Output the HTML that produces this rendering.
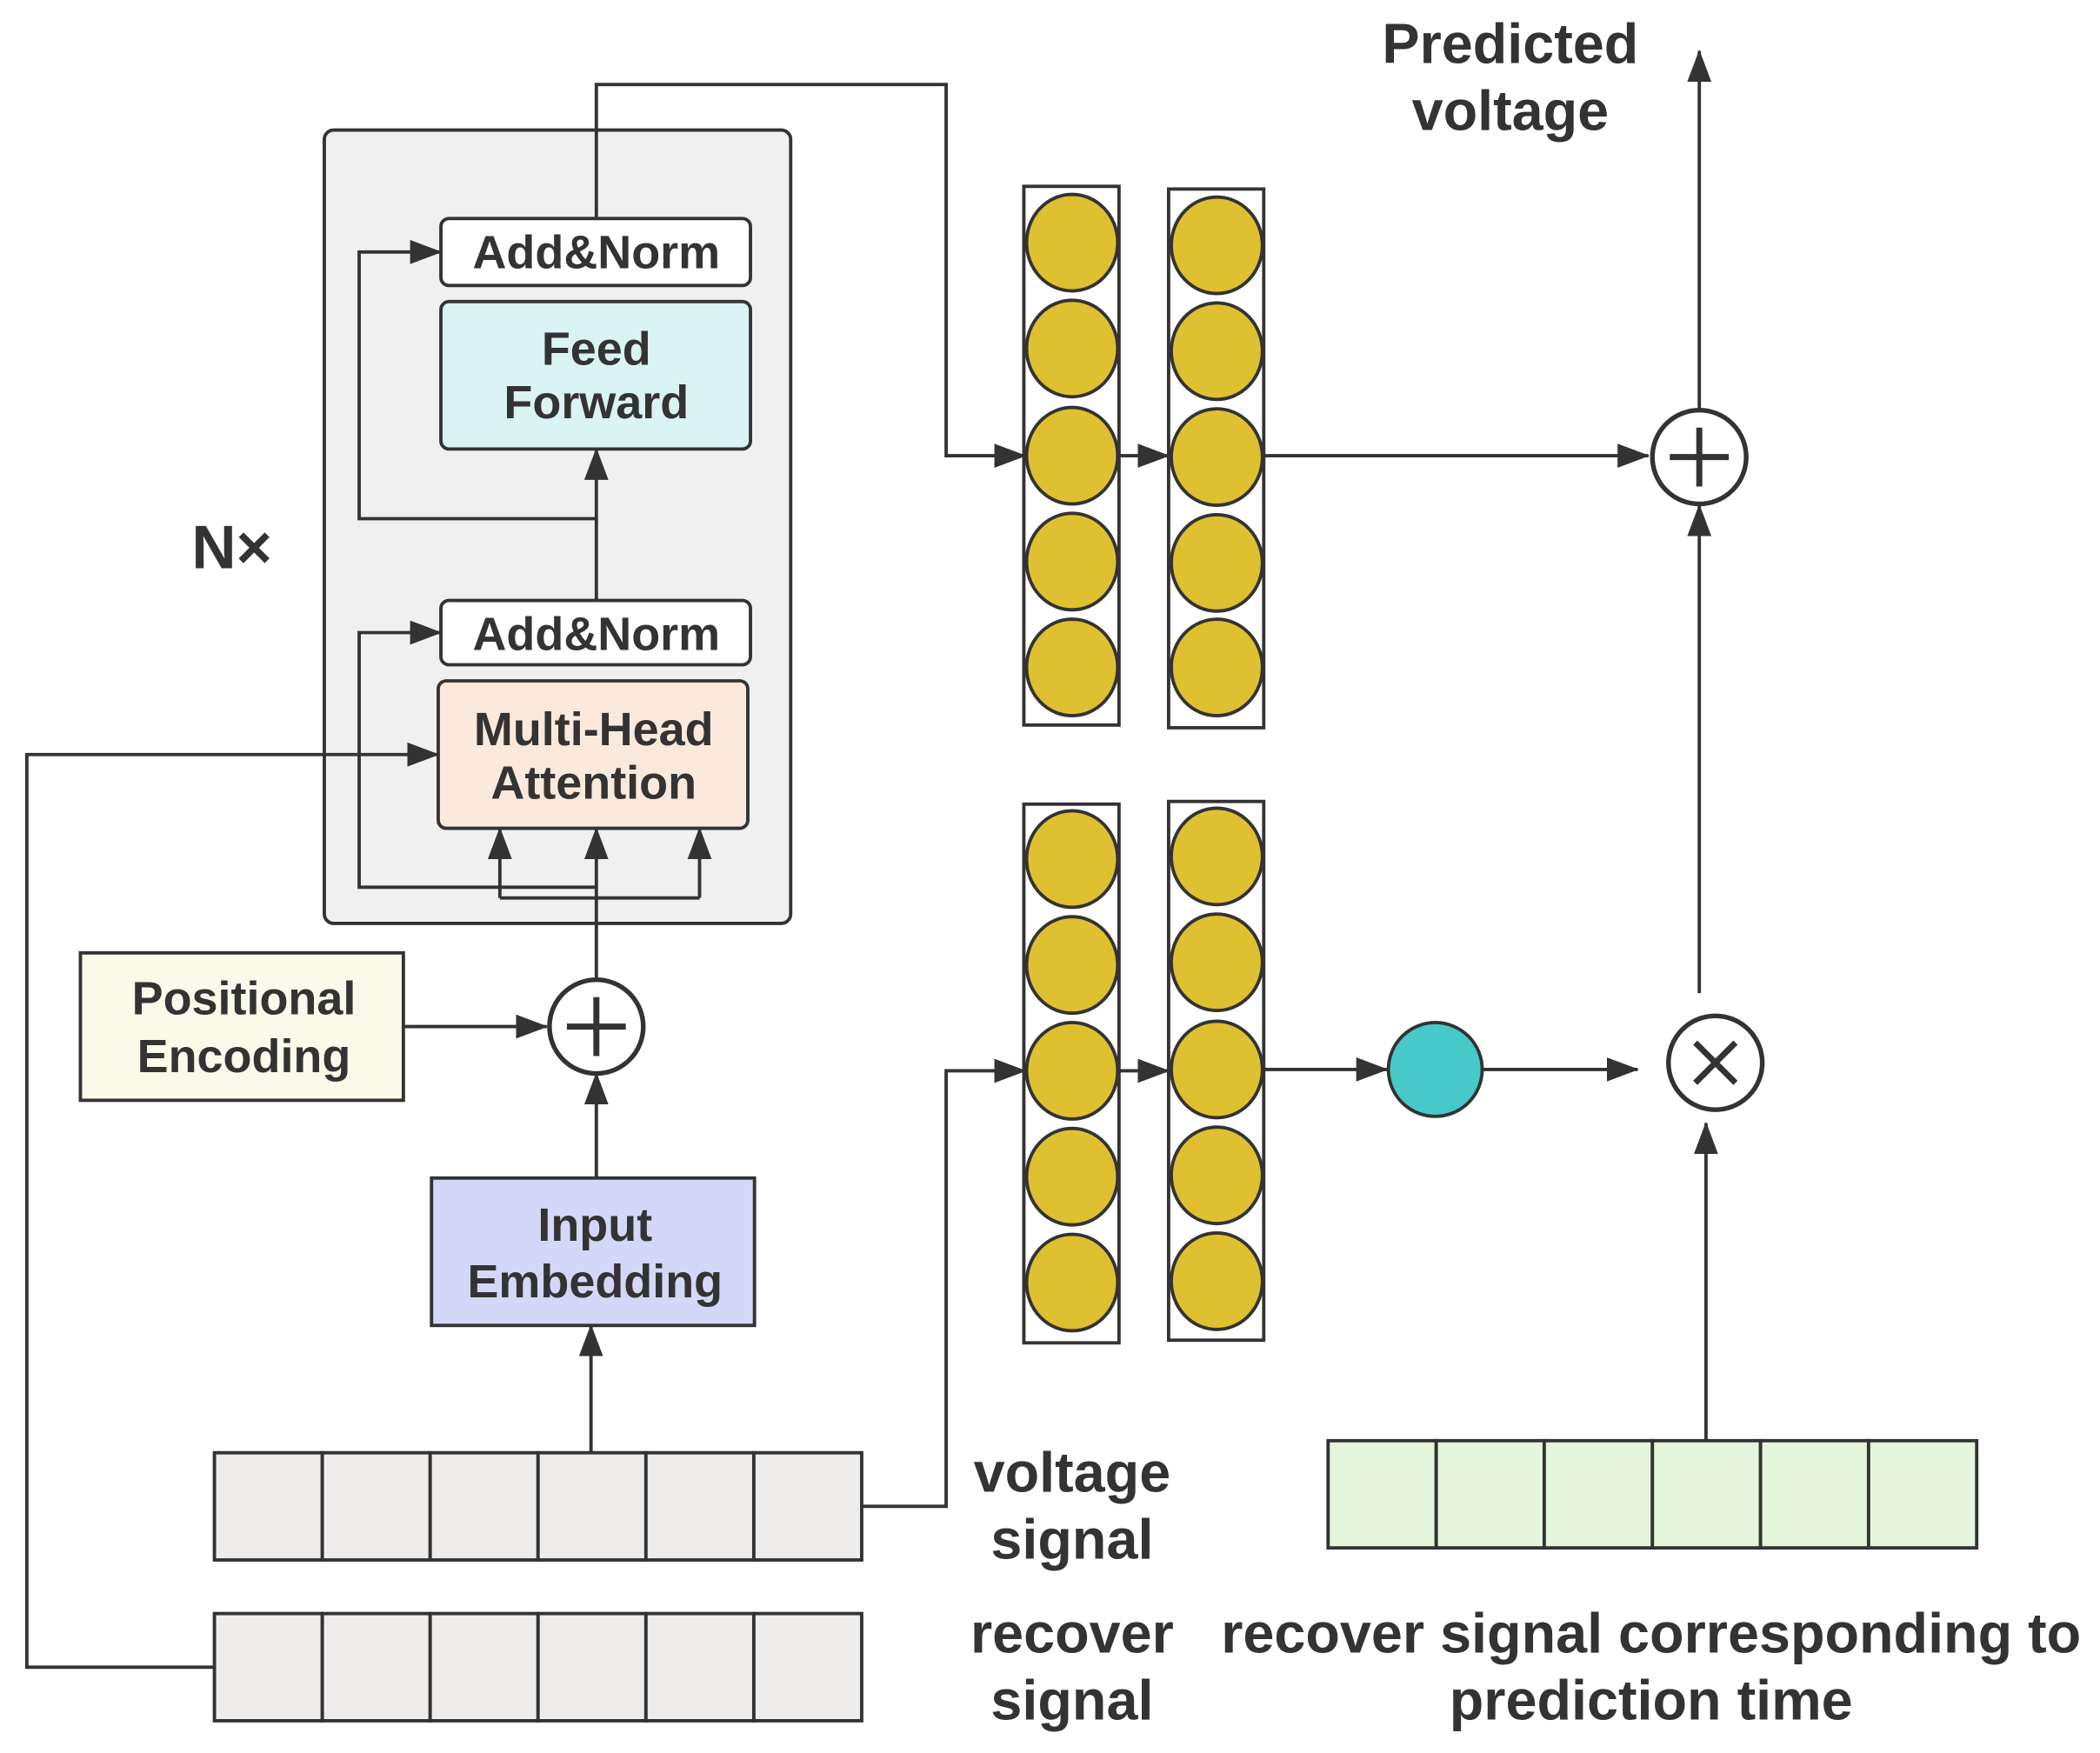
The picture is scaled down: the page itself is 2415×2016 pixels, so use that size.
<!DOCTYPE html>
<html><head><meta charset="utf-8"><style>html,body{margin:0;padding:0;background:#fff}svg{display:block}</style></head><body>
<svg width="2415" height="2016" viewBox="0 0 1567 1308" xmlns="http://www.w3.org/2000/svg" font-family="Liberation Sans, sans-serif" font-weight="bold" fill="#333">
<defs>
<marker id="b" markerWidth="24" markerHeight="18" refX="23" refY="9" orient="auto" markerUnits="userSpaceOnUse"><path d="M0,0L24,9L0,18z" fill="#333"/></marker></defs>
<g stroke="#333" stroke-width="2.5">
<rect x="242" y="97" width="348" height="592" rx="7" fill="#f0f0f0"/>
<rect x="329" y="163" width="231" height="50" rx="6" fill="#fff"/>
<rect x="329" y="225" width="231" height="110" rx="6" fill="#daf3f3"/>
<rect x="329" y="448" width="231" height="48" rx="6" fill="#fff"/>
<rect x="327" y="508" width="231" height="110" rx="6" fill="#fbe9dc"/>
<rect x="60" y="711" width="241" height="110" fill="#fbf9e9"/>
<rect x="322" y="879" width="241" height="110" fill="#d4d8f8"/>
<g fill="none" marker-end="url(#b)">
<path d="M445 163V63H706V340H765"/>
<path d="M445 387H268V188H329"/>
<path d="M445 447V335"/>
<path d="M445 662H268V472H329"/>
<path d="M445 730V618"/>
<path d="M373 670V618"/>
<path d="M522 670V618"/>
<path d="M301 766H408"/>
<path d="M445 879V801"/>
<path d="M441 1083V989"/>
<path d="M643 1124H706V799H765"/>
<path d="M160 1244H20V563H327"/>
<path d="M835 340H872"/>
<path d="M835 799H872"/>
<path d="M943 340H1230"/>
<path d="M943 798H1035"/>
<path d="M1107 798H1222"/>
<path d="M1268 741V377"/>
<path d="M1268 306V38"/>
<path d="M1273 1075V838"/>
</g>
<path d="M373 670H522" fill="none"/>
<circle cx="445" cy="766" r="35" fill="#fff" stroke-width="3.5"/>
<path d="M445 744V788M423 766H467" stroke-width="4.5"/>
<circle cx="1268" cy="341" r="35" fill="#fff" stroke-width="3.5"/>
<path d="M1268 319V363M1246 341H1290" stroke-width="4.5"/>
<circle cx="1280" cy="793" r="35" fill="#fff" stroke-width="3.5"/>
<path d="M1265 778L1295 808M1295 778L1265 808" stroke-width="4.5"/>
<circle cx="1071" cy="798" r="35" fill="#48c9c9"/>
<rect x="764" y="139" width="71" height="402" fill="none"/>
<rect x="872" y="141" width="71" height="402" fill="none"/>
<rect x="764" y="600" width="71" height="402" fill="none"/>
<rect x="872" y="598" width="71" height="402" fill="none"/>
<g fill="#dfc030">
<ellipse cx="800" cy="181" rx="34" ry="36"/><ellipse cx="800" cy="260" rx="34" ry="36"/><ellipse cx="800" cy="340" rx="34" ry="36"/><ellipse cx="800" cy="419" rx="34" ry="36"/><ellipse cx="800" cy="498" rx="34" ry="36"/>
<ellipse cx="908" cy="183" rx="34" ry="36"/><ellipse cx="908" cy="262" rx="34" ry="36"/><ellipse cx="908" cy="341" rx="34" ry="36"/><ellipse cx="908" cy="420" rx="34" ry="36"/><ellipse cx="908" cy="498" rx="34" ry="36"/>
<ellipse cx="800" cy="641" rx="34" ry="36"/><ellipse cx="800" cy="720" rx="34" ry="36"/><ellipse cx="800" cy="799" rx="34" ry="36"/><ellipse cx="800" cy="878" rx="34" ry="36"/><ellipse cx="800" cy="957" rx="34" ry="36"/>
<ellipse cx="908" cy="639" rx="34" ry="36"/><ellipse cx="908" cy="718" rx="34" ry="36"/><ellipse cx="908" cy="798" rx="34" ry="36"/><ellipse cx="908" cy="877" rx="34" ry="36"/><ellipse cx="908" cy="956" rx="34" ry="36"/>
</g>
<g fill="#efedec">
<rect x="160" y="1084" width="80.5" height="80"/><rect x="240.5" y="1084" width="80.5" height="80"/><rect x="321" y="1084" width="80.5" height="80"/><rect x="401.5" y="1084" width="80.5" height="80"/><rect x="482" y="1084" width="80.5" height="80"/><rect x="562.5" y="1084" width="80.5" height="80"/>
<rect x="160" y="1204" width="80.5" height="80"/><rect x="240.5" y="1204" width="80.5" height="80"/><rect x="321" y="1204" width="80.5" height="80"/><rect x="401.5" y="1204" width="80.5" height="80"/><rect x="482" y="1204" width="80.5" height="80"/><rect x="562.5" y="1204" width="80.5" height="80"/>
</g>
<g fill="#e4f5dc">
<rect x="991" y="1075" width="80.7" height="80"/><rect x="1071.7" y="1075" width="80.7" height="80"/><rect x="1152.3" y="1075" width="80.7" height="80"/><rect x="1233" y="1075" width="80.7" height="80"/><rect x="1313.7" y="1075" width="80.7" height="80"/><rect x="1394.3" y="1075" width="80.7" height="80"/>
</g>
</g>
<g text-anchor="middle" font-size="35">
<text x="445" y="200">Add&amp;Norm</text>
<text x="445" y="272">Feed</text><text x="445" y="312">Forward</text>
<text x="445" y="485">Add&amp;Norm</text>
<text x="443" y="556">Multi-Head</text><text x="443" y="596">Attention</text>
<text x="182" y="757">Positional</text><text x="182" y="800">Encoding</text>
<text x="444" y="926">Input</text><text x="444" y="968">Embedding</text>
</g>
<g text-anchor="middle" font-size="42">
<text x="1127" y="47">Predicted</text><text x="1127" y="97">voltage</text>
<text x="800" y="1113">voltage</text><text x="800" y="1163">signal</text>
<text x="800" y="1233">recover</text><text x="800" y="1283">signal</text>
<text x="1232" y="1233">recover signal corresponding to</text><text x="1232" y="1283">prediction time</text>
</g>
<text x="143" y="424" font-size="46">N×</text>
</svg>
</body></html>
